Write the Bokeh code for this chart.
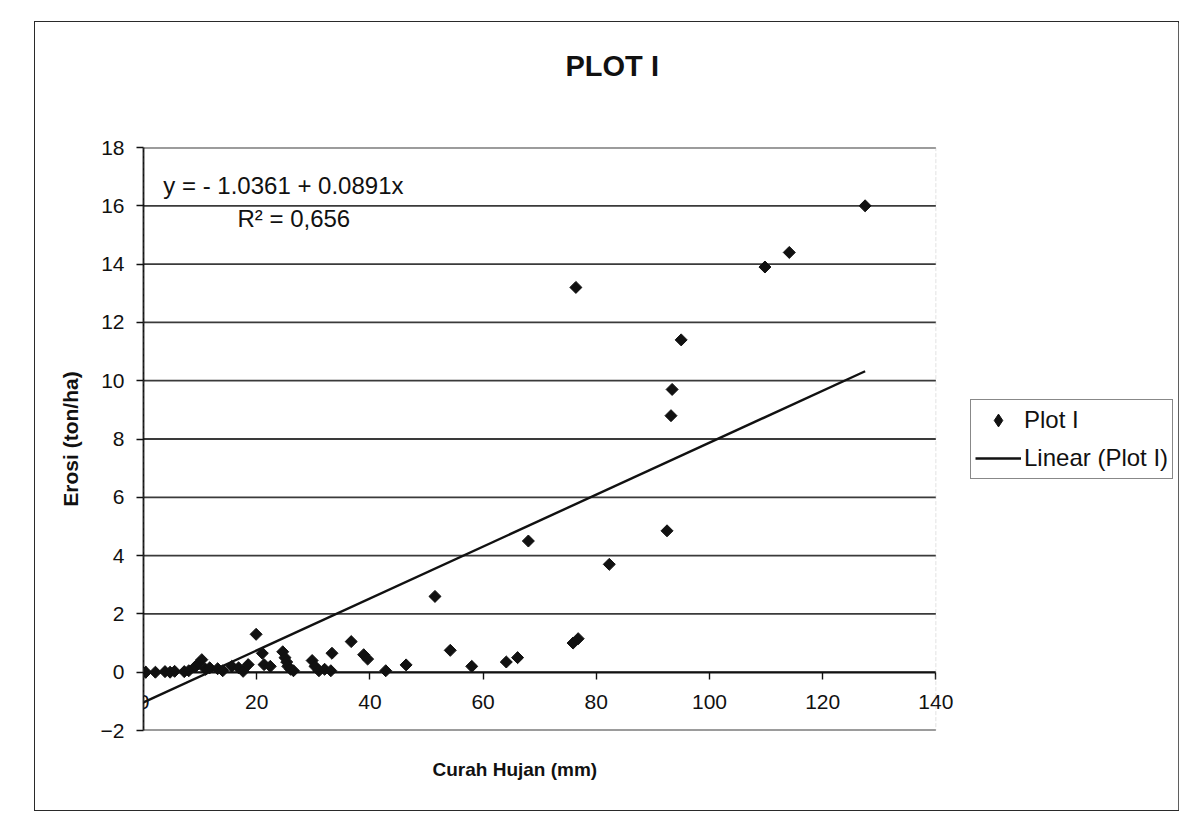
import math
from bokeh.plotting import figure
from bokeh.models import Range1d, FixedTicker, Legend, LegendItem, Label, BoxAnnotation, Title
from bokeh.embed import file_html
from bokeh.resources import INLINE

# Data
curah_hujan = [0.4, 2.1, 3.8, 4.7, 5.5, 7.2, 8.0, 9.2, 9.8, 10.3, 11.0, 11.7, 13.1, 14.0,
               15.6, 16.8, 17.6, 18.5, 19.9, 21.0, 21.3, 22.4, 24.6, 25.0, 25.3, 25.5,
               26.0, 26.5, 29.8, 30.3, 31.0, 32.0, 33.1, 33.3, 36.7, 38.9, 39.6, 42.8,
               46.4, 51.5, 54.2, 58.0, 64.1, 66.1, 68.0, 75.9, 76.4, 76.8, 82.3, 92.5,
               93.2, 93.4, 95.0, 109.8, 114.1, 127.5]
erosi = [0.0, 0.0, 0.02, 0.0, 0.03, 0.02, 0.05, 0.2, 0.3, 0.43, 0.1, 0.15, 0.12, 0.05,
         0.2, 0.15, 0.03, 0.26, 1.3, 0.65, 0.26, 0.2, 0.7, 0.5, 0.35, 0.2,
         0.1, 0.05, 0.4, 0.2, 0.05, 0.1, 0.05, 0.65, 1.05, 0.6, 0.45, 0.05,
         0.25, 2.6, 0.75, 0.2, 0.35, 0.5, 4.5, 1.0, 13.2, 1.15, 3.7, 4.85,
         8.8, 9.7, 11.4, 13.9, 14.4, 16.0]

intercept = -1.0361
slope = 0.0891
x_ticks = [0, 20, 40, 60, 80, 100, 120, 140]
y_ticks = [-2, 0, 2, 4, 6, 8, 10, 12, 14, 16, 18]
x_min, x_max = 0, 140
y_min, y_max = -2, 18

FONT = "Liberation Sans"
INK = "#111111"

p = figure(frame_width=815, frame_height=583,
           x_range=Range1d(x_min, 144), y_range=Range1d(y_min, y_max),
           output_backend="svg", toolbar_location=None,
           min_border_left=108, min_border_top=125, min_border_bottom=80,
           min_border_right=220)
p.styles = {"margin-left": "35px", "margin-top": "22px", "width": "1143px",
            "max-width": "1143px", "outline": "1.5px solid #2a2a2a"}

p.background_fill_color = "white"
p.border_fill_color = "white"
p.outline_line_color = None

# grid (horizontal lines limited to the plotted x extent)
p.xgrid.visible = False
p.ygrid.visible = False
n = len(y_ticks)
p.segment(x0=[x_min] * n, y0=y_ticks, x1=[x_max] * n, y1=y_ticks,
          line_color="#3a3a3a", line_width=1.8)

# plot-area border (light dashed)
p.add_layout(BoxAnnotation(left=x_min, right=x_max, bottom=y_min, top=y_max,
                           fill_alpha=0, line_color="#9a9a9a", line_dash="4 2",
                           line_width=1))

# axes
p.xaxis.ticker = FixedTicker(ticks=x_ticks)
p.yaxis.ticker = FixedTicker(ticks=y_ticks)
p.xaxis.fixed_location = 0
p.xaxis.bounds = (x_min, x_max)
for ax in (p.xaxis, p.yaxis):
    ax.axis_line_color = INK
    ax.axis_line_width = 1.8
    ax.major_tick_line_color = INK
    ax.major_tick_line_width = 1.4
    ax.major_tick_out = 7
    ax.major_tick_in = 0
    ax.minor_tick_line_color = None
    ax.major_label_text_font = FONT
    ax.major_label_text_font_size = "21px"
    ax.major_label_text_color = INK
p.xaxis.major_label_standoff = 16
p.yaxis.major_label_standoff = 12
p.yaxis.axis_label = "Erosi (ton/ha)"
p.yaxis.axis_label_text_font = FONT
p.yaxis.axis_label_text_font_size = "21px"
p.yaxis.axis_label_text_font_style = "bold"
p.yaxis.axis_label_text_color = INK
p.yaxis.axis_label_standoff = 16

# trendline
trend_x = [x_min, max(curah_hujan)]
trend_y = [intercept + slope * v for v in trend_x]
line_r = p.line(trend_x, trend_y, line_color=INK, line_width=2.4)

pts = p.scatter(curah_hujan, erosi, marker="square", angle=math.pi / 4, size=8.5,
                fill_color=INK, line_color=INK)
# legend swatch (diamond) for the point series, drawn over the first point
swatch = p.scatter(curah_hujan[:1], erosi[:1], marker="diamond", size=12,
                   fill_color=INK, line_color=INK)

# equation labels
p.add_layout(Label(x=3.5, y=16.7, text="y = - 1.0361 + 0.0891x", text_font=FONT,
                   text_font_size="24px", text_baseline="middle", text_color=INK))
p.add_layout(Label(x=16.6, y=15.58, text="R\u00b2 = 0,656", text_font=FONT,
                   text_font_size="24px", text_baseline="middle", text_color=INK))

# chart title (with a spacer between it and the plot area) and x-axis title
p.add_layout(Title(text=" ", text_font_size="2px", standoff=60), "above")
p.add_layout(Title(text="PLOT I", align="left", offset=422, standoff=4,
                   text_font=FONT, text_font_size="29px", text_font_style="bold",
                   text_color=INK), "above")
p.add_layout(Title(text="Curah Hujan (mm)", align="left", offset=289, standoff=53,
                   text_font=FONT, text_font_size="19px", text_font_style="bold",
                   text_color=INK), "below")

# legend
legend = Legend(items=[LegendItem(label="Plot I", renderers=[swatch]),
                       LegendItem(label="Linear (Plot I)", renderers=[line_r])],
                location="center_left", margin=12, padding=4, spacing=6,
                glyph_width=46, glyph_height=32, label_standoff=3,
                label_text_font=FONT, label_text_font_size="24px",
                label_text_color=INK,
                border_line_color=INK, border_line_width=1.4)
p.add_layout(legend, "right")

open("out.html", "w").write(file_html(p, INLINE))
